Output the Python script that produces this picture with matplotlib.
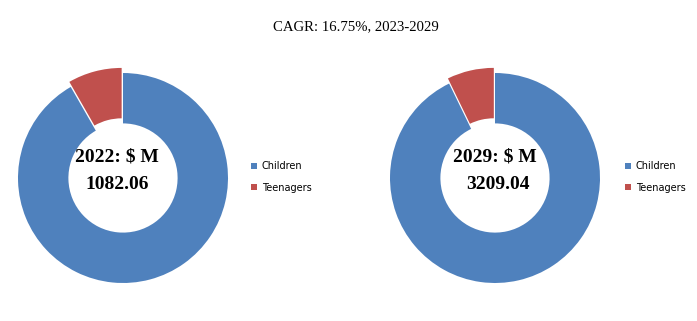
import matplotlib
matplotlib.use("Agg")
import matplotlib.pyplot as plt

# market split by age group, $ M
segments = ["Children", "Teenagers"]
values_2022 = [992.30, 89.76]
values_2029 = [2978.00, 231.04]
years = ["2022", "2029"]
totals = ["1082.06", "3209.04"]
title = "CAGR: 16.75%, 2023-2029"

colors = ["#4F81BD", "#C0504D"]

W, H = 697, 321
fig = plt.figure(figsize=(W / 100, H / 100), dpi=100)
fig.patch.set_facecolor("white")

fig.text(356 / W, 1 - 27 / H, title, ha="center", va="center",
         family="Liberation Serif", fontsize=10.6)


def donut(cx, cy, radius, values, year, total, legend_x, text_dx):
    # axes sized in pixels so the ring radius lands where we want it
    lim = 1.25
    side = 2 * lim * radius
    ax = fig.add_axes([(cx - side / 2) / W, (H - cy - side / 2) / H,
                       side / W, side / H])
    wedges, _ = ax.pie(values, colors=colors, startangle=90, counterclock=False,
                       explode=[0, 0.05], radius=1.0,
                       wedgeprops=dict(width=0.48, linewidth=0))
    ax.set_xlim(-lim, lim)
    ax.set_ylim(-lim, lim)
    ax.set_aspect("equal")
    ax.axis("off")

    ax.text(text_dx[0], 0.20, f"{year}: $ M", ha="center", va="center",
            family="Liberation Serif", fontweight="bold", fontsize=14)
    ax.text(text_dx[1], -0.06, total, ha="center", va="center",
            family="Liberation Serif", fontweight="bold", fontsize=14)

    fig.legend(wedges, segments, loc="center left",
               bbox_to_anchor=(legend_x / W, 1 - 177 / H),
               frameon=False, fontsize=7, handlelength=0.6, handleheight=0.6,
               handletextpad=0.5, labelspacing=1.2, borderaxespad=0,
               borderpad=0)


donut(123, 178, 105, values_2022, years[0], totals[0], 251, (-0.06, -0.06))
donut(495, 178, 105, values_2029, years[1], totals[1], 625, (0.0, 0.03))

fig.savefig("out.png", dpi=100, facecolor="white")
